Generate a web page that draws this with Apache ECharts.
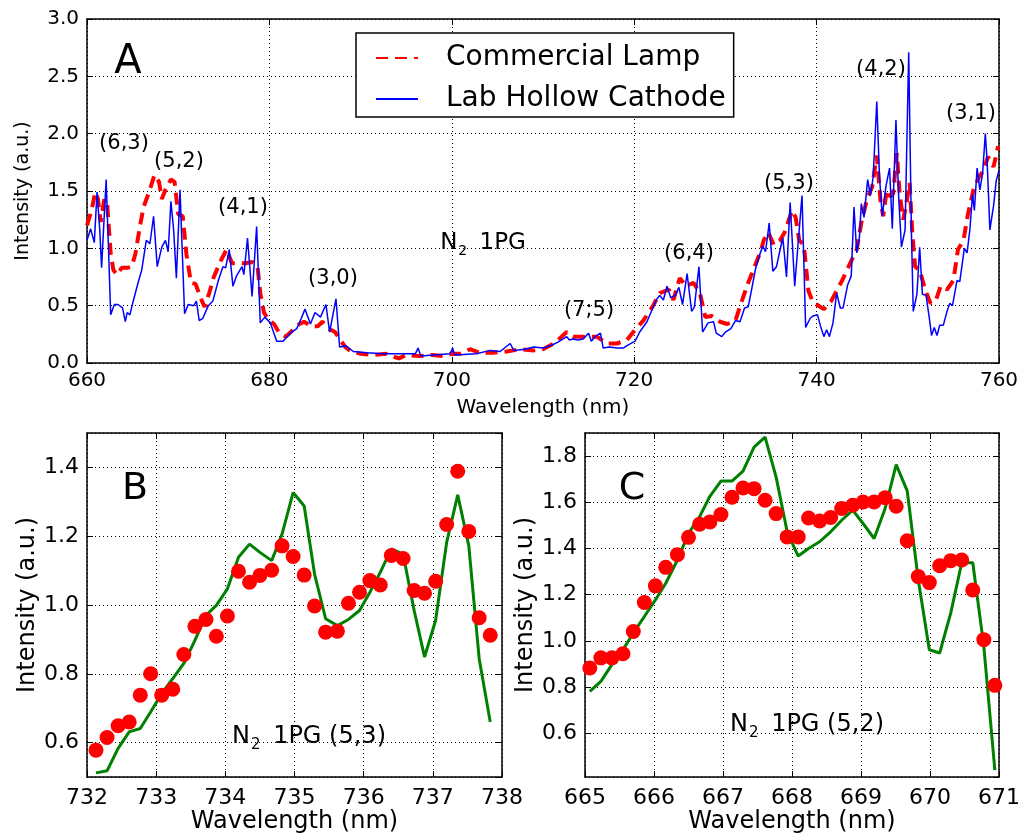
<!DOCTYPE html>
<html>
<head>
<meta charset="utf-8">
<script src="https://cdn.jsdelivr.net/npm/echarts@6/dist/echarts.min.js"></script>
<style>
html,body{margin:0;padding:0;background:#fff;}
#chart{width:1026px;height:840px;}
</style>
</head>
<body>
<div id="chart"></div>
<script>
// ---------- Panel A data ----------
const aLampX = [660.0,660.5,660.9,661.2,661.5,661.9,662.2,662.6,662.9,663.3,663.8,664.4,664.9,665.3,665.8,666.2,666.8,667.4,667.9,668.2,668.6,669.2,669.6,670.0,670.5,670.9,671.4,671.9,672.5,672.9,673.4,673.9,674.6,675.3,675.9,676.7,677.4,678.1,678.7,679.0,679.4,680.0,680.5,681.1,681.8,682.6,683.3,683.8,684.6,685.3,685.8,686.5,687.2,687.7,688.3,688.8,690.0,691.5,692.8,693.8,694.2,695.0,696.5,697.8,699.0,700.0,701.0,702.0,703.0,704.5,706.0,707.5,709.0,710.0,711.2,712.6,713.3,714.4,715.9,717.0,718.1,719.2,720.1,721.0,722.0,722.8,723.8,724.3,725.0,725.7,726.5,727.2,727.8,728.5,729.4,730.2,731.1,731.8,732.5,733.2,733.9,734.2,734.7,735.3,736.0,736.5,737.3,737.7,738.1,738.6,739.1,739.6,740.0,740.8,741.6,742.8,743.8,744.4,744.9,745.5,746.1,746.6,747.0,747.3,747.7,748.1,748.4,748.8,749.1,749.5,749.9,750.2,750.5,750.8,751.3,751.9,752.5,753.1,753.6,754.3,755.0,755.5,756.1,756.6,757.2,757.8,758.3,758.8,759.4,759.9];
const aLampY = [1.20,1.33,1.49,1.43,1.23,1.43,1.40,0.95,0.81,0.77,0.83,0.83,0.84,0.95,1.19,1.36,1.49,1.64,1.58,1.43,1.51,1.60,1.58,1.30,1.28,0.95,0.70,0.69,0.56,0.49,0.61,0.75,0.88,0.99,0.87,0.87,0.87,0.88,0.84,0.61,0.44,0.37,0.34,0.26,0.23,0.29,0.34,0.36,0.32,0.32,0.36,0.30,0.27,0.21,0.14,0.11,0.08,0.07,0.08,0.05,0.04,0.07,0.06,0.07,0.06,0.08,0.08,0.12,0.09,0.09,0.10,0.12,0.11,0.12,0.17,0.27,0.23,0.23,0.23,0.17,0.17,0.20,0.29,0.37,0.49,0.61,0.64,0.55,0.74,0.67,0.70,0.61,0.40,0.41,0.36,0.34,0.37,0.54,0.70,0.84,0.98,1.07,1.14,1.03,1.07,1.14,1.33,1.27,1.07,1.03,0.63,0.53,0.51,0.47,0.54,0.72,0.89,0.99,1.22,1.42,1.54,1.81,1.42,1.28,1.51,1.45,1.48,1.83,1.48,1.25,1.42,1.57,1.13,0.84,0.81,0.64,0.52,0.55,0.67,0.64,0.72,0.99,1.07,1.30,1.51,1.62,1.68,1.80,1.71,1.89];

const aHollowX = [660.0,660.4,660.8,661.1,661.4,661.6,661.9,662.1,662.3,662.6,663.0,663.4,663.9,664.2,664.4,664.7,665.1,665.6,666.0,666.5,666.9,667.3,667.7,668.2,668.6,668.9,669.2,669.5,669.8,670.2,670.4,670.7,671.1,671.7,672.0,672.3,672.7,673.3,673.8,674.4,674.9,675.2,675.6,676.0,676.4,677.0,677.2,677.6,678.1,678.6,679.0,679.5,680.1,680.8,681.5,682.3,683.0,683.5,683.9,684.5,685.0,685.6,686.2,686.6,687.3,687.7,688.4,689.2,690.7,692.5,694.3,696.0,696.3,696.6,698.0,699.8,700.1,700.3,702.7,704.2,705.3,706.4,706.8,708.0,709.0,710.0,710.8,711.6,712.6,712.9,713.3,713.8,714.4,715.0,715.3,715.7,716.3,716.6,717.3,718.1,718.8,719.4,720.1,720.6,721.4,722.2,722.5,722.8,723.2,723.6,724.0,724.5,724.9,725.3,725.8,726.3,726.6,727.1,727.5,728.1,728.7,729.0,729.6,730.0,730.6,731.1,731.6,732.1,732.5,732.9,733.3,733.7,734.1,734.4,734.8,735.2,735.6,736.0,736.3,736.7,737.1,737.6,737.9,738.4,738.8,739.3,739.6,740.1,740.4,740.8,741.1,741.4,741.8,742.2,742.6,742.9,743.4,743.8,744.1,744.4,744.7,744.9,745.2,745.6,745.9,746.2,746.6,746.9,747.2,747.6,748.0,748.3,748.7,749.0,749.3,749.7,750.1,750.4,750.6,751.0,751.3,751.6,752.0,752.4,752.6,752.9,753.2,753.5,753.9,754.3,754.6,754.9,755.4,755.7,756.2,756.5,756.8,757.1,757.3,757.6,757.9,758.2,758.5,758.7,759.0,759.4,759.7,760.0];
const aHollowY = [1.07,1.17,1.05,1.49,1.16,0.83,1.30,1.60,1.13,0.42,0.51,0.51,0.48,0.36,0.44,0.42,0.55,0.70,0.81,1.07,1.04,1.28,0.84,1.01,1.07,0.97,1.41,1.16,0.74,1.51,1.07,0.43,0.51,0.50,0.54,0.37,0.39,0.50,0.54,0.72,0.84,0.83,0.99,0.67,0.76,0.84,0.77,1.09,0.58,1.19,0.35,0.40,0.35,0.19,0.19,0.26,0.30,0.39,0.47,0.34,0.44,0.40,0.51,0.27,0.56,0.14,0.15,0.10,0.09,0.08,0.08,0.08,0.13,0.06,0.07,0.08,0.13,0.07,0.08,0.11,0.10,0.17,0.11,0.12,0.14,0.13,0.15,0.18,0.23,0.20,0.21,0.20,0.21,0.26,0.19,0.23,0.26,0.13,0.14,0.13,0.13,0.16,0.19,0.27,0.36,0.51,0.56,0.59,0.55,0.67,0.57,0.59,0.66,0.51,0.78,0.45,0.49,0.84,0.27,0.35,0.36,0.26,0.23,0.27,0.30,0.37,0.36,0.48,0.49,0.65,0.82,0.93,1.02,0.97,1.22,0.80,0.84,0.99,1.09,0.75,1.40,0.67,0.97,1.46,0.31,0.39,0.41,0.42,0.33,0.23,0.29,0.23,0.35,0.61,0.48,0.48,0.68,0.76,1.36,0.96,1.10,1.39,1.27,1.60,1.46,1.62,2.28,1.62,1.28,1.54,1.70,1.17,2.12,1.45,1.01,1.16,2.71,1.13,0.45,0.60,1.01,0.60,0.59,0.37,0.24,0.31,0.24,0.33,0.33,0.45,0.52,0.50,0.72,0.71,1.00,0.96,1.16,1.47,1.33,1.70,1.51,1.65,2.00,1.76,1.16,1.37,1.59,1.68];

const aBandLabels = ['(6,3)','(5,2)','(4,1)','(3,0)','(7;5)','(6,4)','(5,3)','(4,2)','(3,1)'];
const aBandAt = [[124,144],[179,162],[243,208],[333,279],[589,311],[689,254],[789,184],[881,70],[971,114]];

// ---------- Panel B data (N2 1PG (5,3)) ----------
const bWave = [732.13,732.29,732.45,732.61,732.77,732.92,733.08,733.24,733.40,733.56,733.72,733.87,734.03,734.19,734.35,734.50,734.67,734.82,734.98,735.14,735.29,735.45,735.62,735.78,735.94,736.09,736.24,736.40,736.57,736.73,736.88,737.04,737.20,737.36,737.52,737.67,737.83];
const bDots = [0.578,0.615,0.649,0.660,0.738,0.800,0.738,0.755,0.856,0.938,0.958,0.909,0.968,1.098,1.066,1.086,1.101,1.172,1.141,1.087,0.997,0.921,0.924,1.005,1.037,1.071,1.058,1.144,1.135,1.042,1.034,1.069,1.234,1.389,1.214,0.963,0.912];
const bLine = [0.512,0.518,0.583,0.631,0.641,0.689,0.743,0.786,0.830,0.897,0.970,0.999,1.047,1.139,1.177,1.153,1.129,1.206,1.327,1.288,1.090,0.960,0.940,0.958,0.984,1.037,1.095,1.163,1.148,0.984,0.849,0.955,1.182,1.320,1.172,0.844,0.660];

// ---------- Panel C data (N2 1PG (5,2)) ----------
const cWave = [665.07,665.23,665.39,665.55,665.70,665.86,666.02,666.17,666.34,666.50,666.66,666.81,666.97,667.13,667.29,667.45,667.61,667.77,667.93,668.09,668.24,668.40,668.56,668.72,668.88,669.03,669.19,669.35,669.51,669.67,669.83,669.99,670.14,670.30,670.46,670.62,670.78,670.94];
const cDots = [0.882,0.926,0.926,0.944,1.040,1.166,1.238,1.318,1.373,1.448,1.505,1.515,1.547,1.622,1.662,1.659,1.609,1.551,1.450,1.450,1.532,1.519,1.534,1.573,1.587,1.601,1.601,1.620,1.583,1.433,1.278,1.252,1.325,1.347,1.350,1.220,1.005,0.807];
const cLine = [0.781,0.824,0.897,0.961,1.034,1.105,1.177,1.249,1.350,1.465,1.537,1.626,1.692,1.692,1.735,1.839,1.882,1.709,1.472,1.367,1.400,1.429,1.472,1.522,1.566,1.508,1.443,1.573,1.763,1.649,1.264,0.961,0.947,1.120,1.338,1.338,0.976,0.440];

// ---------- build ----------
const FONT = 'DejaVu Sans';
const zip = (xs, ys) => xs.map((x, i) => [x, ys[i]]);
const gridLine = {show: true, lineStyle: {color: '#000', type: [1, 3], width: 1}};

function mainX(gi, min, max, interval, fs, margin, nameGap, nameFs) {
  return {type: 'value', gridIndex: gi, min, max, interval, position: 'bottom',
    name: 'Wavelength (nm)', nameLocation: 'middle', nameGap,
    nameTextStyle: {fontFamily: FONT, fontSize: nameFs, color: '#000'},
    axisLine: {show: true, onZero: false, lineStyle: {color: '#000', width: 1.5}},
    axisTick: {show: true, inside: true, length: 6, lineStyle: {color: '#000', width: 1}},
    axisLabel: {fontFamily: FONT, fontSize: fs, color: '#000', margin},
    splitLine: gridLine};
}
function sideX(gi, min, max, interval) {
  return {type: 'value', gridIndex: gi, min, max, interval, position: 'top',
    axisLine: {show: true, onZero: false, lineStyle: {color: '#000', width: 1.5}},
    axisTick: {show: true, inside: true, length: 6, lineStyle: {color: '#000'}},
    axisLabel: {show: false}, splitLine: {show: false}};
}
function mainY(gi, extra, fs, nameGap, nameFs) {
  return Object.assign({type: 'value', gridIndex: gi, position: 'left',
    name: 'Intensity (a.u.)', nameLocation: 'middle', nameGap,
    nameTextStyle: {fontFamily: FONT, fontSize: nameFs, color: '#000'},
    axisLine: {show: true, onZero: false, lineStyle: {color: '#000', width: 1.5}},
    axisTick: {show: true, inside: true, length: 6, lineStyle: {color: '#000'}},
    axisLabel: {fontFamily: FONT, fontSize: fs, color: '#000', margin: 8,
      showMinLabel: extra.showEnds, showMaxLabel: extra.showEnds,
      formatter: v => v.toFixed(1)},
    splitLine: gridLine}, extra.opts);
}
function sideY(gi, opts) {
  return Object.assign({type: 'value', gridIndex: gi, position: 'right',
    axisLine: {show: true, onZero: false, lineStyle: {color: '#000', width: 1.5}},
    axisTick: {show: true, inside: true, length: 6, lineStyle: {color: '#000'}},
    axisLabel: {show: false}, splitLine: {show: false}}, opts);
}

const aY = {min: 0, max: 3, interval: 0.5};
const bY = {min: 0.5, max: 1.5, splitNumber: 5};
const cY = {min: 0.41, max: 1.9, splitNumber: 7};

const textEl = (text, x, y, size) => ({type: 'text', x, y, z: 100,
  style: {text, fontFamily: FONT, fontSize: size, fill: '#000', align: 'center', verticalAlign: 'middle'}});
const n2El = (tail, x, y, size) => ({type: 'text', x, y, z: 100,
  style: {text: '{n|N}{s|2}{n| ' + tail + '}', fontFamily: FONT, fill: '#000', align: 'center', verticalAlign: 'middle',
    rich: {
      n: {fontFamily: FONT, fontSize: size, lineHeight: size + 8, fill: '#000', verticalAlign: 'middle'},
      s: {fontFamily: FONT, fontSize: Math.round(size * 0.62), lineHeight: Math.round(size * 0.62), fill: '#000', verticalAlign: 'bottom', padding: [0, 5, 0, 1]}
    }}});

const graphics = [
  textEl('A', 128, 63, 40),
  textEl('B', 135, 489, 38),
  textEl('C', 632, 489, 38),
  n2El('1PG', 483, 243, 23),
  n2El('1PG (5,3)', 309, 737, 24),
  n2El('1PG (5,2)', 807, 725, 24)
].concat(aBandLabels.map((t, i) => textEl(t, aBandAt[i][0], aBandAt[i][1], 21)));

const option = {
  backgroundColor: '#fff',
  animation: false,
  grid: [
    {left: 87, top: 19, width: 912, height: 344, show: false},
    {left: 87, top: 433, width: 415, height: 344, show: false},
    {left: 585, top: 433, width: 414, height: 344, show: false}
  ],
  xAxis: [
    mainX(0, 660, 760, 20, 20, 8, 35, 20),
    mainX(1, 732, 738, 1, 22, 10, 32, 24),
    mainX(2, 665, 671, 1, 22, 10, 32, 24),
    sideX(0, 660, 760, 20), sideX(1, 732, 738, 1), sideX(2, 665, 671, 1)
  ],
  yAxis: [
    mainY(0, {showEnds: true, opts: aY}, 20, 54, 19),
    mainY(1, {showEnds: false, opts: bY}, 22, 46, 24),
    mainY(2, {showEnds: false, opts: cY}, 22, 46, 24),
    sideY(0, aY), sideY(1, bY), sideY(2, cY)
  ],
  legend: {
    show: true, left: 356, top: 33, orient: 'vertical',
    data: ['Commercial Lamp', 'Lab Hollow Cathode'],
    itemWidth: 42, itemHeight: 14, itemGap: 13,
    padding: [11, 8, 4, 19],
    borderColor: '#000', borderWidth: 1.5, borderRadius: 0,
    backgroundColor: '#fff',
    itemStyle: {color: 'rgba(0,0,0,0)', borderWidth: 0, opacity: 0},
    textStyle: {fontFamily: FONT, fontSize: 28, color: '#000', padding: [0, 0, 0, 23]},
    selectedMode: false
  },
  series: [
    {name: 'Commercial Lamp', type: 'line', xAxisIndex: 0, yAxisIndex: 0,
      data: zip(aLampX, aLampY), symbol: 'none', showSymbol: false,
      lineStyle: {color: '#ff0000', width: 4, type: [12, 7]}, itemStyle: {color: '#ff0000'}, z: 3},
    {name: 'Lab Hollow Cathode', type: 'line', xAxisIndex: 0, yAxisIndex: 0,
      data: zip(aHollowX, aHollowY), symbol: 'none', showSymbol: false,
      lineStyle: {color: '#0000ff', width: 1.5}, itemStyle: {color: '#0000ff'}, z: 4},
    {name: 'B fit', type: 'line', xAxisIndex: 1, yAxisIndex: 1,
      data: zip(bWave, bLine), symbol: 'none', lineStyle: {color: '#008000', width: 3}, z: 3},
    {name: 'B data', type: 'scatter', xAxisIndex: 1, yAxisIndex: 1,
      data: zip(bWave, bDots), symbolSize: 15, itemStyle: {color: '#ff0000', opacity: 1}, z: 4},
    {name: 'C fit', type: 'line', xAxisIndex: 2, yAxisIndex: 2,
      data: zip(cWave, cLine), symbol: 'none', lineStyle: {color: '#008000', width: 3}, z: 3},
    {name: 'C data', type: 'scatter', xAxisIndex: 2, yAxisIndex: 2,
      data: zip(cWave, cDots), symbolSize: 15, itemStyle: {color: '#ff0000', opacity: 1}, z: 4}
  ],
  graphic: graphics
};

const chart = echarts.init(document.getElementById('chart'), null, {renderer: 'canvas'});
chart.setOption(option);
</script>
</body>
</html>
